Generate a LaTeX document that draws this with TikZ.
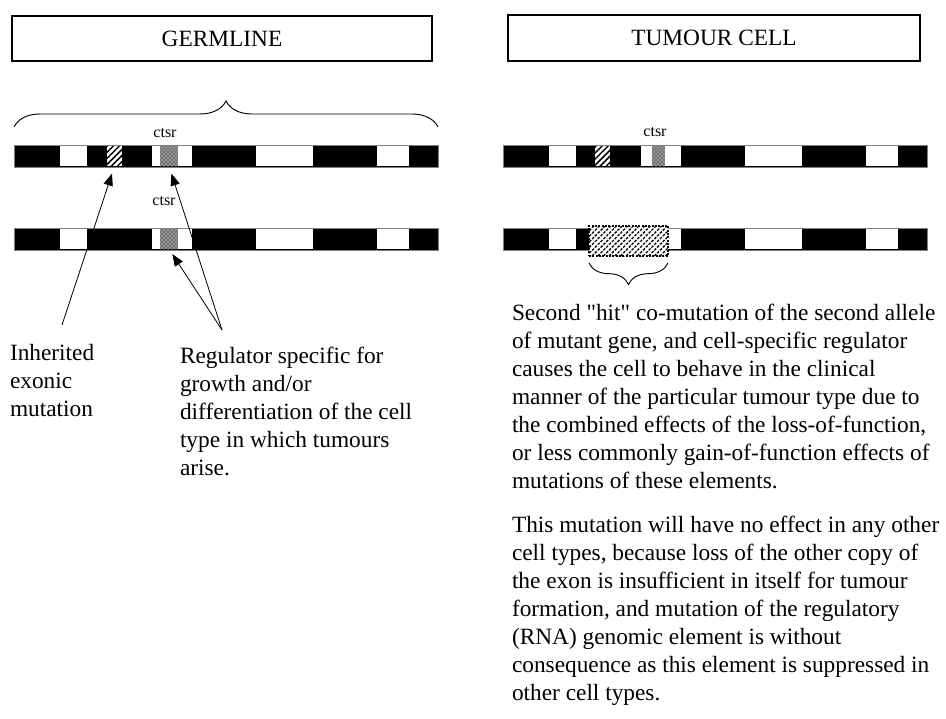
\documentclass[tikz,border=0pt]{standalone}
\usepackage{fontspec}
\setmainfont{Liberation Serif}
\usetikzlibrary{arrows.meta,patterns,patterns.meta,decorations.pathreplacing}

\def\px{0.75pt}
\def\bl{424}
\def\bh{22}
% one chromosome bar: name, left edge, top edge
\def\chrom#1#2#3{%
  \node[chrom, minimum width=\bl*\px] (#1) at ({#2+\bl/2}, {#3+\bh/2}) {};
  \foreach \a/\b in {46/73,138/178,242/299,363/395}
    \node[exon, minimum width={(\b-\a)*\px}] at ({#2+(\a+\b)/2}, {#3+\bh/2}) {};
}

\begin{document}
\begin{tikzpicture}[x=0.75pt,y=-0.75pt,
    every node/.style={inner sep=0pt,outer sep=0pt},
    chrom/.style={rectangle,fill=black,draw=gray,line width=0.75pt,minimum height=\bh*\px},
    exon/.style={rectangle,fill=white,minimum height=(\bh-2)*\px},
    hatch/.style={rectangle,fill=white,minimum height=(\bh-2)*\px,
        postaction={pattern={Lines[angle=45,distance=3.2pt,line width=1.1pt]}}},
    checker/.style={rectangle,fill=black!55,minimum height=(\bh-2)*\px,
        postaction={pattern=crosshatch dots,pattern color=white}},
    hitbox/.style={rectangle,fill=white,draw=black,densely dotted,line width=1.5pt,
        postaction={pattern={Lines[angle=45,distance=3pt,line width=1pt]}}},
    titlebox/.style={rectangle,draw=black,line width=0.9pt,font=\fontsize{17.5}{21}\selectfont},
    txt/.style={align=left,anchor=north west,font=\fontsize{17.5}{21}\selectfont},
    lbl/.style={font=\fontsize{12}{14}\selectfont},
    arr/.style={-{Triangle[length=9pt,width=7pt]},line width=0.6pt},
    brc/.style={decorate,line width=0.7pt}]
    \useasboundingbox (0,0) rectangle (946,718);

    % headings
    \node[titlebox, minimum width=420*\px, minimum height=45*\px] (germ) at (222,38.5) {GERMLINE};
    \node[titlebox, minimum width=412*\px, minimum height=46*\px] (tum) at (714,38) {TUMOUR CELL};

    % germline pair
    \chrom{gA}{14}{145}
    \chrom{gB}{14}{228}
    \node[hatch, minimum width=15*\px] (mutA) at (114.5,156) {};
    \node[checker, minimum width=18*\px] (ctsA) at (169,156) {};
    \node[checker, minimum width=18*\px] (ctsB) at (169,239) {};
    \node[lbl] (ctsrA) at (165,133) {ctsr};
    \node[lbl] (ctsrB) at (164,201) {ctsr};
    \draw[brc, decoration={brace,amplitude=19.5pt}]
        ([yshift=13.5pt]gA.north west) -- ([yshift=13.5pt]gA.north east);

    % tumour pair
    \chrom{tA}{503}{145}
    \chrom{tB}{503}{228}
    \node[hatch, minimum width=15*\px] (mutC) at (602.5,156) {};
    \node[checker, minimum width=13*\px] (ctsC) at (658.5,156) {};
    \node[hitbox, minimum width=79*\px, minimum height=30*\px] (hit) at (628.5,241) {};
    \node[lbl] (ctsrC) at (655,132) {ctsr};
    \draw[brc, decoration={brace,mirror,amplitude=16pt}]
        ([yshift=-5.25pt]hit.south west) -- ([yshift=-5.25pt]hit.south east);

    % labels
    \node[txt] (inh) at (10,344) {Inherited\\exonic\\mutation};
    \node[txt] (reg) at (180,347) {Regulator specific for\\growth and/or\\differentiation of the cell\\type in which tumours\\arise.};
    \node[txt] (expl) at (512,304) {Second \textquotedbl hit\textquotedbl{} co-mutation of the second allele\\
        of mutant gene, and cell-specific regulator\\
        causes the cell to behave in the clinical\\
        manner of the particular tumour type due to\\
        the combined effects of the loss-of-function,\\
        or less commonly gain-of-function effects of\\
        mutations of these elements.\\[12pt]
        This mutation will have no effect in any other\\
        cell types, because loss of the other copy of\\
        the exon is insufficient in itself for tumour\\
        formation, and mutation of the regulatory\\
        (RNA) genomic element is without\\
        consequence as this element is suppressed in\\
        other cell types.};

    % arrows
    \coordinate (inhfoot) at (62,325);
    \coordinate (regfoot) at (222,330);
    \draw[arr, shorten >=6pt] (inhfoot) -- (mutA.south);
    \draw[arr, shorten >=6pt] (regfoot) -- (ctsA.south);
    \draw[arr, shorten >=4.5pt] (regfoot) -- (ctsB.south);
\end{tikzpicture}
\end{document}
